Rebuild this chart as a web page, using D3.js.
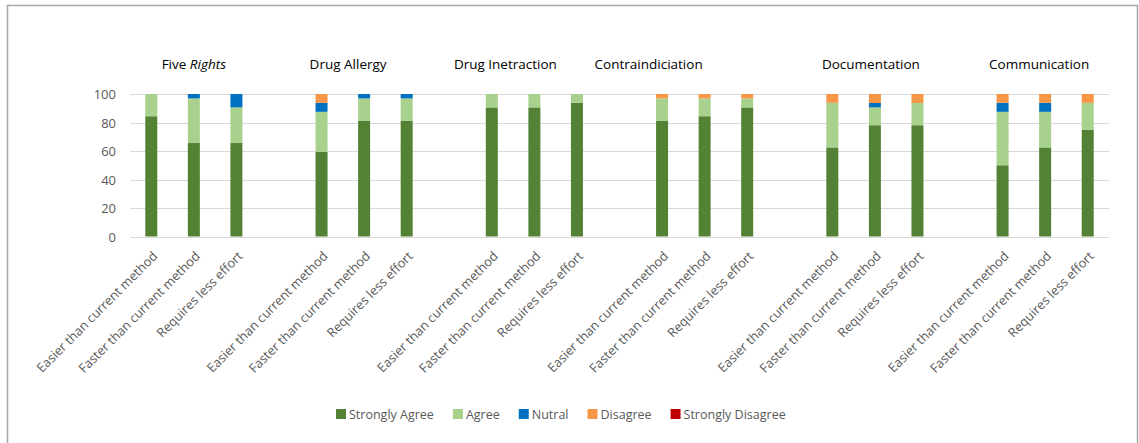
<!DOCTYPE html>
<html>
<head>
<meta charset="utf-8">
<script src="https://cdn.jsdelivr.net/npm/d3@7"></script>
<style>
  body { margin: 0; background: #fff; }
  svg text { font-family: "Open Sans", "Liberation Sans", sans-serif; }
</style>
</head>
<body>
<div id="chart"></div>
<script>
// groups and the three statements in each
const groups = ["Five Rights", "Drug Allergy", "Drug Inetraction", "Contraindiciation", "Documentation", "Communication"]
const statements = ["Easier than current method", "Faster than current method", "Requires less effort"]
const seriesNames = ["Strongly Agree", "Agree", "Nutral", "Disagree", "Strongly Disagree"]
const seriesColors = ["#548235", "#a9d18e", "#0070c0", "#f79646", "#c00000"]
const yTicks = [0, 20, 40, 60, 80, 100]

// percent values, one row per bar (group order, then statement order)
const stronglyAgree = [84.4, 65.6, 65.6, 59.4, 81.3, 81.3, 90.6, 90.6, 93.8, 81.3, 84.4, 90.6, 62.5, 78.1, 78.1, 50.0, 62.5, 75.0]
const agree = [15.6, 31.3, 25.0, 28.1, 15.6, 15.6, 9.4, 9.4, 6.2, 15.6, 12.5, 6.3, 31.3, 12.5, 15.6, 37.5, 25.0, 18.8]
const nutral = [0, 3.1, 9.4, 6.3, 3.1, 3.1, 0, 0, 0, 0, 0, 0, 0, 3.1, 0, 6.3, 6.3, 0]
const disagree = [0, 0, 0, 6.2, 0, 0, 0, 0, 0, 3.1, 3.1, 3.1, 6.2, 6.3, 6.3, 6.2, 6.2, 6.2]
const stronglyDisagree = [0, 0, 0, 0, 0, 0, 0, 0, 0, 0, 0, 0, 0, 0, 0, 0, 0, 0]

// title text boxes sit a bit left of their group in the original
const titleShift = [0, -16, -29, -56, -4, -6]

const width = 1139, height = 443
const svg = d3.select("#chart").append("svg")
  .attr("width", width).attr("height", height)

svg.append("rect")
  .attr("x", 7.5).attr("y", 5.5)
  .attr("width", 1130).attr("height", 460)
  .attr("fill", "#fff").attr("stroke", "#a6a6a6").attr("stroke-width", 1.5)

// build slots with an empty slot between groups
let slots = []
let rows = []
groups.forEach((g, gi) => {
  statements.forEach((s, si) => {
    const i = gi * 3 + si
    const key = g + "|" + s
    slots.push(key)
    rows.push({ key, group: g, label: s,
      "Strongly Agree": stronglyAgree[i], "Agree": agree[i], "Nutral": nutral[i],
      "Disagree": disagree[i], "Strongly Disagree": stronglyDisagree[i] })
  })
  if (gi < groups.length - 1) slots.push("gap" + gi)
})

const x = d3.scaleBand().domain(slots).range([130, 1109])
const y = d3.scaleLinear().domain([0, 100]).range([236.5, 94])
const barW = 12

// grid
svg.append("g").selectAll("line")
  .data(yTicks).enter().append("line")
  .attr("x1", 130).attr("x2", 1109)
  .attr("y1", d => Math.round(y(d)) + 0.5).attr("y2", d => Math.round(y(d)) + 0.5)
  .attr("stroke", "#d9d9d9").attr("stroke-width", 1)

svg.append("g").selectAll("text")
  .data(yTicks).enter().append("text")
  .attr("x", 116).attr("y", d => y(d) + 5)
  .attr("text-anchor", "end")
  .attr("font-size", 13).attr("fill", "#595959")
  .text(d => d)

// stacked bars
const stack = d3.stack().keys(seriesNames)(rows)
svg.append("g").selectAll("g")
  .data(stack).enter().append("g")
  .attr("fill", (d, i) => seriesColors[i])
  .selectAll("rect")
  .data(d => d).enter().append("rect")
  .attr("x", d => x(d.data.key) + x.bandwidth() / 2 - barW / 2)
  .attr("width", barW)
  .attr("y", d => y(d[1]))
  .attr("height", d => y(d[0]) - y(d[1]))

// rotated category labels
svg.append("g").selectAll("text")
  .data(rows).enter().append("text")
  .attr("transform", d => `translate(${x(d.key) + x.bandwidth() / 2 + 7},${257}) rotate(-45)`)
  .attr("text-anchor", "end")
  .attr("font-size", 12.8).attr("fill", "#595959")
  .text(d => d.label)

// group titles
const titles = svg.append("g").selectAll("text")
  .data(groups).enter().append("text")
  .attr("x", (d, i) => x(d + "|" + statements[1]) + x.bandwidth() / 2 + titleShift[i])
  .attr("y", 69)
  .attr("text-anchor", "middle")
  .attr("font-size", 13.5).attr("fill", "#000")
titles.each(function (d) {
  const t = d3.select(this)
  if (d === "Five Rights") {
    t.append("tspan").text("Five ")
    t.append("tspan").attr("font-style", "italic").text("Rights")
  } else {
    t.text(d)
  }
})

// legend
const legend = svg.append("g")
let lx = 336
seriesNames.forEach((name, i) => {
  legend.append("rect")
    .attr("x", lx).attr("y", 409).attr("width", 10).attr("height", 10)
    .attr("fill", seriesColors[i])
  const t = legend.append("text")
    .attr("x", lx + 13).attr("y", 419)
    .attr("font-size", 12.5).attr("fill", "#595959")
    .text(name)
  lx += 13 + t.node().getComputedTextLength() + 19
})
</script>
</body>
</html>
